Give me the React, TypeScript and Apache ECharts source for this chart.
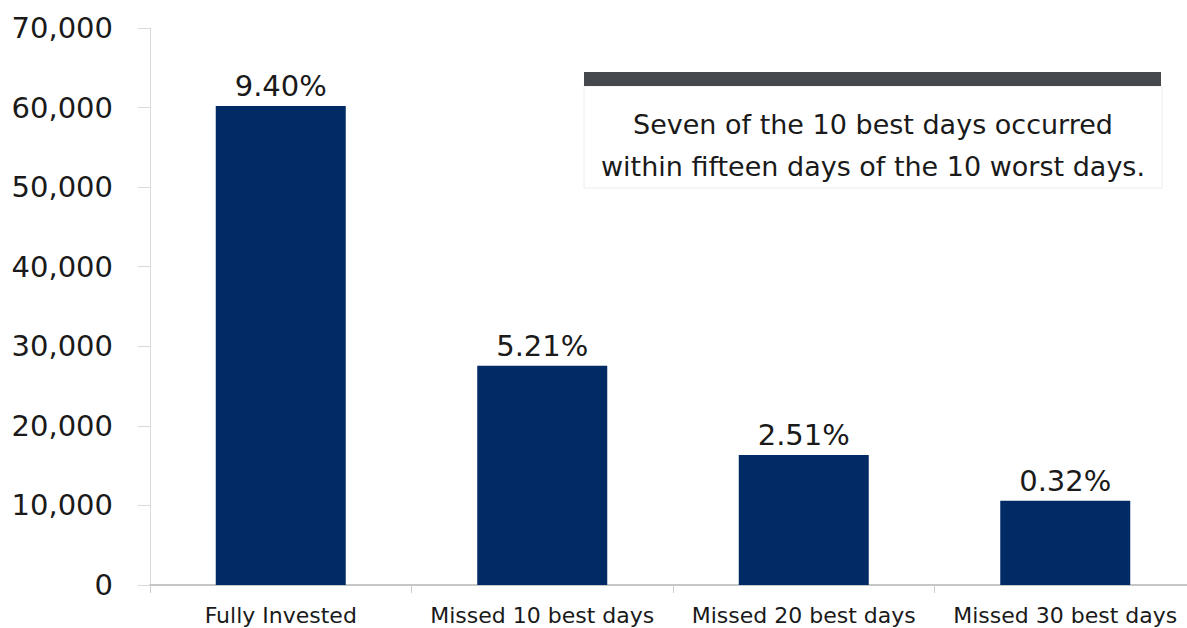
import React, { useEffect, useRef } from "react";
import * as echarts from "echarts";

const categories = ["Fully Invested", "Missed 10 best days", "Missed 20 best days", "Missed 30 best days"];
const values = [60200, 27560, 16340, 10600];
const returnLabels = ["9.40%", "5.21%", "2.51%", "0.32%"];
const noteLines = ["Seven of the 10 best days occurred", "within fifteen days of the 10 worst days."];

const FONT = "DejaVu Sans";

export default function App() {
  const ref = useRef<HTMLDivElement>(null);
  useEffect(() => {
    if (!ref.current) return;
    const chart = echarts.init(ref.current, null, { renderer: "svg" });
    chart.setOption({
      animation: false,
      backgroundColor: "#ffffff",
      grid: { left: 150, right: 0, top: 28, bottom: 43, containLabel: false },
      xAxis: {
        type: "category",
        data: categories,
        boundaryGap: true,
        axisLine: { show: true, lineStyle: { color: "#b3b3b3", width: 1.5 } },
        axisTick: { show: true, length: 8, lineStyle: { color: "#cccccc" } },
        axisLabel: {
          margin: 19,
          color: "#1a1a1a",
          fontFamily: FONT,
          fontSize: 22,
          interval: 0,
        },
        splitLine: { show: false },
      },
      yAxis: {
        type: "value",
        min: 0,
        max: 70000,
        interval: 10000,
        axisLine: { show: true, lineStyle: { color: "#d9d9d9", width: 1 } },
        axisTick: { show: true, length: 12, lineStyle: { color: "#d9d9d9" } },
        axisLabel: {
          margin: 37,
          color: "#1a1a1a",
          fontFamily: FONT,
          fontSize: 29,
          formatter: (v: number) => v.toLocaleString("en-US"),
        },
        splitLine: { show: false },
      },
      series: [
        {
          type: "bar",
          data: values,
          barWidth: 130,
          itemStyle: { color: "#022b66" },
          label: {
            show: true,
            position: "top",
            distance: 5,
            color: "#1a1a1a",
            fontFamily: FONT,
            fontSize: 29,
            formatter: (p: any) => returnLabels[p.dataIndex],
          },
        },
      ],
      graphic: [
        {
          type: "rect",
          shape: { x: 584, y: 86, width: 578, height: 102 },
          style: { fill: "#ffffff", stroke: "#ececec", lineWidth: 1 },
          silent: true,
        },
        {
          type: "rect",
          shape: { x: 584, y: 72, width: 577, height: 14 },
          style: { fill: "#45494e" },
          silent: true,
        },
        {
          type: "text",
          x: 873,
          y: 145,
          style: {
            text: noteLines.join("\n"),
            fill: "#1a1a1a",
            font: `27px "${FONT}"`,
            align: "center",
            verticalAlign: "middle",
            lineHeight: 42,
          },
          silent: true,
        },
      ],
    });
    return () => chart.dispose();
  }, []);
  return (
    <div style={{ position: "absolute", left: 0, top: 0, width: 1187, height: 628, overflow: "hidden" }}>
      <div ref={ref} style={{ width: 1196, height: 628 }} />
    </div>
  );
}
